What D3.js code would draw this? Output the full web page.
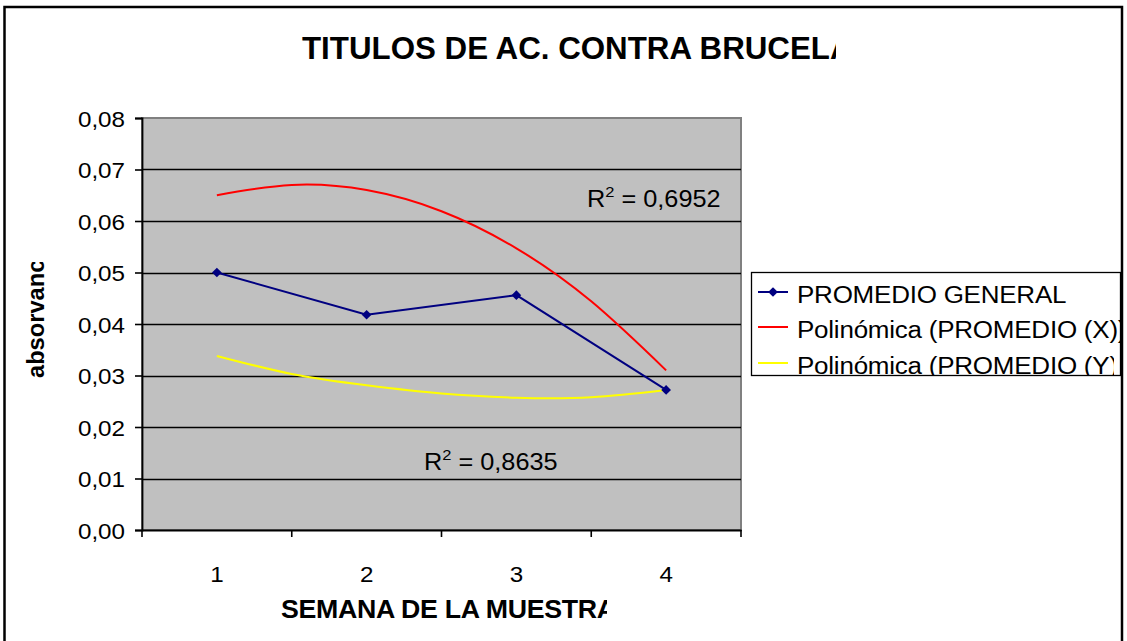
<!DOCTYPE html>
<html>
<head>
<meta charset="utf-8">
<script src="https://cdn.jsdelivr.net/npm/d3@7"></script>
<style>
    html, body { margin: 0; padding: 0; background: #ffffff; }
    text { font-family: 'Liberation Sans', Arial, sans-serif; fill: #000000; }
</style>
</head>
<body>
<div id="graph"></div>
<script>
'use strict';

// values
const weeks = ['1', '2', '3', '4'];
const promedioGeneral = [0.0500, 0.0418, 0.0456, 0.0272];

// polynomial trendlines, read at half-week steps
const trendWeeks = [1, 1.5, 2, 2.5, 3, 3.5, 4];
const trendX = [0.0650, 0.0670, 0.0660, 0.0619, 0.0547, 0.0444, 0.0310];
const trendY = [0.0338, 0.0303, 0.0281, 0.0265, 0.0257, 0.0258, 0.0272];

const yTicks = [0, 0.01, 0.02, 0.03, 0.04, 0.05, 0.06, 0.07, 0.08];
const yTickLabels = ['0,00', '0,01', '0,02', '0,03', '0,04', '0,05', '0,06', '0,07', '0,08'];

const legendLabels = ['PROMEDIO GENERAL', 'Polinómica (PROMEDIO (X))', 'Polinómica (PROMEDIO (Y))'];
const legendColors = ['#000080', '#ff0000', '#ffff00'];
const r2Values = ['0,6952', '0,8635'];

const measurements = {
    width: 1127,
    height: 641,
    plot: { left: 142, right: 741, top: 118, bottom: 530 }
};

let svg = '';
const stretch = 1.1; // the original text is a bit wider than Arial

window.onload = function() {
    svg = d3.select('#graph')
        .append('svg')
        .attr('width', measurements.width)
        .attr('height', measurements.height);

    let defs = svg.append('defs');
    defs.append('clipPath').attr('id', 'clip-title')
        .append('rect').attr('x', 0).attr('y', 0).attr('width', 836).attr('height', 100);
    defs.append('clipPath').attr('id', 'clip-xlabel')
        .append('rect').attr('x', 0).attr('y', 580).attr('width', 607).attr('height', 61);
    defs.append('clipPath').attr('id', 'clip-ylabel')
        .append('rect').attr('x', 0).attr('y', 262).attr('width', 100).attr('height', 200);
    defs.append('clipPath').attr('id', 'clip-legend')
        .append('rect').attr('x', 751).attr('y', 272).attr('width', 372).attr('height', 104);
    defs.append('clipPath').attr('id', 'clip-legend-last')
        .append('rect').attr('x', 751).attr('y', 272).attr('width', 363).attr('height', 103.5);

    // outer chart border
    svg.append('rect')
        .attr('x', 4.5)
        .attr('y', 7)
        .attr('width', 1117.5)
        .attr('height', 700)
        .attr('fill', '#ffffff')
        .attr('stroke', '#000000')
        .attr('stroke-width', 2.5);

    let funcs = drawAxes();
    plotData(funcs);
    makeLabels();
    makeLegend();
};

function drawAxes() {
    let p = measurements.plot;

    let xScale = d3.scaleBand()
        .domain(weeks)
        .range([p.left, p.right]);

    let yScale = d3.scaleLinear()
        .domain([0, 0.08])
        .range([p.bottom, p.top]);

    // plot area
    svg.append('rect')
        .attr('x', p.left)
        .attr('y', p.top)
        .attr('width', p.right - p.left)
        .attr('height', p.bottom - p.top)
        .attr('fill', '#c0c0c0')
        .attr('stroke', '#808080')
        .attr('stroke-width', 2);

    // gridlines
    svg.append('g')
        .selectAll('line')
        .data(yTicks.filter((d) => d > 0 && d < 0.08))
        .enter()
        .append('line')
        .attr('x1', p.left)
        .attr('x2', p.right)
        .attr('y1', (d) => Math.round(yScale(d)) + 0.5)
        .attr('y2', (d) => Math.round(yScale(d)) + 0.5)
        .attr('stroke', '#000000')
        .attr('stroke-width', 1.6);

    // y axis
    let yAxis = d3.axisLeft(yScale)
        .tickValues(yTicks)
        .tickSize(7)
        .tickFormat('');
    let gy = svg.append('g')
        .attr('transform', 'translate(' + p.left + ', 0)')
        .call(yAxis);
    gy.select('.domain').attr('stroke', '#000000').attr('stroke-width', 1.8);
    gy.selectAll('.tick line').attr('stroke', '#000000').attr('stroke-width', 1.6);
    gy.selectAll('.tick').each(function(d, i) {
        d3.select(this).append('text')
            .attr('transform', 'translate(-17, 8) scale(' + stretch + ', 1)')
            .attr('text-anchor', 'end')
            .style('font-size', '22px')
            .text(yTickLabels[i]);
    });

    // x axis: ticks sit between the categories
    let xAxis = d3.axisBottom(xScale).tickSize(0).tickFormat('');
    let gx = svg.append('g')
        .attr('transform', 'translate(0, ' + p.bottom + ')')
        .call(xAxis);
    gx.select('.domain').attr('stroke', '#000000').attr('stroke-width', 1.8);

    let bounds = weeks.map((w) => xScale(w)).concat([p.right]);
    gx.selectAll('.bound')
        .data(bounds)
        .enter()
        .append('line')
        .attr('class', 'bound')
        .attr('x1', (d) => d)
        .attr('x2', (d) => d)
        .attr('y1', 0)
        .attr('y2', 7)
        .attr('stroke', '#000000')
        .attr('stroke-width', 1.6);

    gx.selectAll('.wlabel')
        .data(weeks)
        .enter()
        .append('text')
        .attr('class', 'wlabel')
        .attr('transform', (d) => 'translate(' + (xScale(d) + xScale.bandwidth() / 2) + ', 52) scale(' + stretch + ', 1)')
        .attr('text-anchor', 'middle')
        .style('font-size', '22px')
        .text((d) => d);

    // trend positions run on a continuous week scale through the category centres
    let xLin = d3.scaleLinear()
        .domain([1, 4])
        .range([xScale('1') + xScale.bandwidth() / 2, xScale('4') + xScale.bandwidth() / 2]);

    return { xScale: xScale, yScale: yScale, xLin: xLin };
}

function plotData(funcs) {
    let line = d3.line()
        .x((d) => funcs.xLin(d[0]))
        .y((d) => funcs.yScale(d[1]))
        .curve(d3.curveNatural);

    // red trendline
    svg.append('path')
        .datum(trendWeeks.map((t, i) => [t, trendX[i]]))
        .attr('d', line)
        .attr('fill', 'none')
        .attr('stroke', legendColors[1])
        .attr('stroke-width', 2);

    // yellow trendline
    svg.append('path')
        .datum(trendWeeks.map((t, i) => [t, trendY[i]]))
        .attr('d', line)
        .attr('fill', 'none')
        .attr('stroke', legendColors[2])
        .attr('stroke-width', 2);

    // PROMEDIO GENERAL
    let pts = weeks.map((w, i) => [+w, promedioGeneral[i]]);
    svg.append('path')
        .datum(pts)
        .attr('d', d3.line().x((d) => funcs.xLin(d[0])).y((d) => funcs.yScale(d[1])))
        .attr('fill', 'none')
        .attr('stroke', legendColors[0])
        .attr('stroke-width', 2);

    svg.selectAll('.dot')
        .data(pts)
        .enter()
        .append('path')
        .attr('class', 'dot')
        .attr('d', d3.symbol().type(d3.symbolDiamond2).size(60))
        .attr('transform', (d) => 'translate(' + funcs.xLin(d[0]) + ',' + funcs.yScale(d[1]) + ')')
        .attr('fill', legendColors[0]);

    // R² labels
    makeR2(587, 207, r2Values[0]);
    makeR2(424, 470, r2Values[1]);
}

function makeR2(x, y, value) {
    let t = svg.append('text')
        .attr('transform', 'translate(' + x + ',' + y + ') scale(' + stretch + ', 1)')
        .style('font-size', '23px');
    t.append('tspan').text('R');
    t.append('tspan')
        .attr('dy', -10)
        .style('font-size', '15px')
        .text('2');
    t.append('tspan')
        .attr('dy', 10)
        .text(' = ' + value);
}

function makeLabels() {
    svg.append('g')
        .attr('clip-path', 'url(#clip-title)')
        .append('text')
        .attr('transform', 'translate(302, 59) scale(1.01, 1)')
        .style('font-size', '31px')
        .style('font-weight', 'bold')
        .text('TITULOS DE AC. CONTRA BRUCELA');

    svg.append('g')
        .attr('clip-path', 'url(#clip-xlabel)')
        .append('text')
        .attr('transform', 'translate(281, 618) scale(1.07, 1)')
        .style('font-size', '25px')
        .style('font-weight', 'bold')
        .style('letter-spacing', '-0.3px')
        .text('SEMANA DE LA MUESTRA');

    svg.append('g')
        .attr('clip-path', 'url(#clip-ylabel)')
        .append('text')
        .attr('transform', 'translate(44, 378) rotate(-90) scale(1.03, 1)')
        .style('font-size', '23px')
        .style('font-weight', 'bold')
        .text('absorvancia');
}

function makeLegend() {
    let g = svg.append('g');
    g.append('rect')
        .attr('x', 751.5)
        .attr('y', 272.5)
        .attr('width', 369)
        .attr('height', 103)
        .attr('fill', '#ffffff')
        .attr('stroke', '#000000')
        .attr('stroke-width', 1.3);

    let baselines = [303, 338, 374];
    legendLabels.forEach(function(label, i) {
        let rows = g.append('g')
            .attr('clip-path', i === 2 ? 'url(#clip-legend-last)' : 'url(#clip-legend)');
        let cy = baselines[i] - 11;
        rows.append('line')
            .attr('x1', 758)
            .attr('x2', 788)
            .attr('y1', cy)
            .attr('y2', cy)
            .attr('stroke', legendColors[i])
            .attr('stroke-width', 2);
        if (i === 0) {
            rows.append('path')
                .attr('d', d3.symbol().type(d3.symbolDiamond2).size(60))
                .attr('transform', 'translate(773,' + cy + ')')
                .attr('fill', legendColors[0]);
        }
        rows.append('text')
            .attr('transform', 'translate(797,' + baselines[i] + ') scale(1.13, 1)')
            .style('font-size', '23px')
            .style('letter-spacing', '-0.2px')
            .text(label);
    });
}
</script>
</body>
</html>
